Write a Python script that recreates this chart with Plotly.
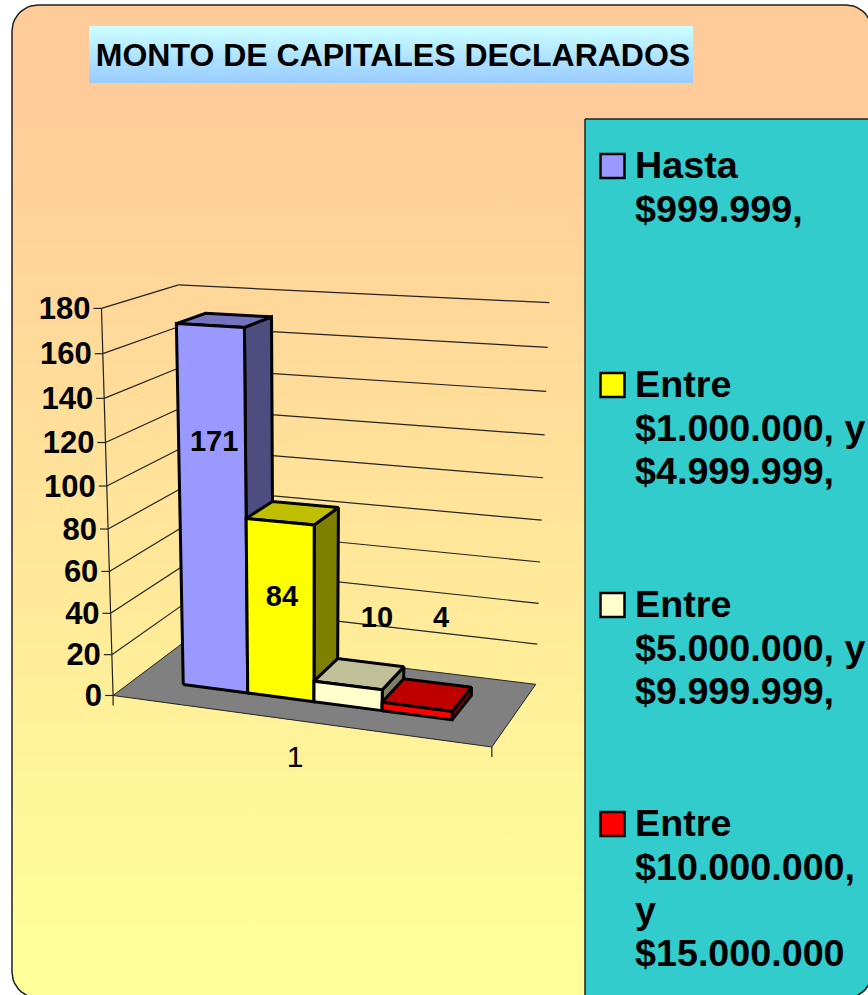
import numpy as np
import plotly.graph_objects as go

# data
tick_values = [0, 20, 40, 60, 80, 100, 120, 140, 160, 180]
category = '1'
chart_title = 'MONTO DE CAPITALES DECLARADOS'
series_names = [
    ['Hasta', '$999.999,'],
    ['Entre', '$1.000.000, y', '$4.999.999,'],
    ['Entre', '$5.000.000, y', '$9.999.999,'],
    ['Entre', '$10.000.000,', 'y', '$15.000.000'],
]
series_values = [171, 84, 10, 4]
series_colors = ['#9999FF', '#FFFF00', '#FFFFCC', '#FF0000']
side_colors = ['#4D4D80', '#808000', '#808066', '#800000']
top_colors = ['#7373BF', '#BFBF00', '#BFBF99', '#BF0000']

V_MAX = 180
FONT = 'Liberation Sans'
W, H = 868, 995

# (u along categories, d depth, value) -> point on the page, fitted as a real perspective camera
world = np.array([
    [0, 0, 0], [0, 0, V_MAX], [1, 0, 0], [0, 1, V_MAX],
    [1, 1, V_MAX], [1, 1, 0], [0, 1, 0], [0, 0, 100], [1, 1, 100],
], dtype=float)
page = np.array([
    [115, 695], [99, 309], [491, 749], [180, 285],
    [549, 303], [536, 682], [183, 643], [108, 484], [544, 478],
], dtype=float)
rows, rhs = [], []
for (u, d, v), (px, py) in zip(world, page):
    rows.append([u, d, v, 1, 0, 0, 0, 0, -px * u, -px * d, -px * v])
    rhs.append(px)
    rows.append([0, 0, 0, 0, u, d, v, 1, -py * u, -py * d, -py * v])
    rhs.append(py)
cam = np.linalg.lstsq(np.array(rows), np.array(rhs), rcond=None)[0]
cam = np.append(cam, 1).reshape(3, 4)


def project(u, d, v):
    p = cam @ np.array([u, d, v, 1.0])
    return p[0] / p[2], p[1] / p[2]


fig = go.Figure()


def poly(points, fill, line='black', width=3, gradient=None):
    xs = [p[0] for p in points] + [points[0][0]]
    ys = [p[1] for p in points] + [points[0][1]]
    args = dict(x=xs, y=ys, mode='lines', fill='toself', hoverinfo='skip',
                line=dict(color=line, width=width))
    if gradient:
        args['fillgradient'] = gradient
    else:
        args['fillcolor'] = fill
    fig.add_trace(go.Scatter(**args))


def segment(a, b, width=1.2, color='#222222'):
    fig.add_trace(go.Scatter(x=[a[0], b[0]], y=[a[1], b[1]], mode='lines', hoverinfo='skip',
                             line=dict(color=color, width=width)))


def label(x, y, text, size, bold=True, pos='middle center'):
    txt = '<b>%s</b>' % text if bold else text
    fig.add_trace(go.Scatter(x=[x], y=[y], mode='text', text=[txt], textposition=pos, hoverinfo='skip',
                             textfont=dict(family=FONT, size=size, color='black')))


def arc(cx, cy, r, start):
    return [(cx + r * np.cos(a), cy + r * np.sin(a)) for a in np.radians(np.linspace(start, start + 90, 12))]


def rounded(x0, y0, x1, y1, r):
    return (arc(x1 - r, y0 + r, r, -90) + arc(x1 - r, y1 - r, r, 0)
            + arc(x0 + r, y1 - r, r, 90) + arc(x0 + r, y0 + r, r, 180))


# page background
poly(rounded(12, 5, 872, 998, 26), None, line='#222222', width=1.5, gradient=dict(
    type='vertical', colorscale=[[0, '#FFFF99'], [0.05, '#FFFF99'], [0.9, '#FFCC99'], [1, '#FFCC99']]))

# title box
poly([(89, 26), (693, 26), (693, 83), (89, 83)], None, line='rgba(0,0,0,0)', width=0, gradient=dict(
    type='vertical', colorscale=[[0, '#99CCFF'], [1, '#CCFFFF']]))
label(393, 58, chart_title, 32)

# legend box, its lower right corner follows the frame
poly([(585, 119), (872, 119)] + arc(846, 972, 26, 0) + [(585, 998)], '#33CCCC', line='#222222', width=1.5)

legend_tops = [165, 384, 604, 823]
for top, lines, colour in zip(legend_tops, series_names, series_colors):
    fig.add_trace(go.Scatter(x=[612.5], y=[top + 1], mode='markers', hoverinfo='skip',
                             marker=dict(symbol='square', size=24, color=colour,
                                         line=dict(color='black', width=2.5))))
    for i, line in enumerate(lines):
        label(635, top + 4 + i * 43.3, line, 37.7, pos='middle right')

# floor
poly([project(0, 0, 0), project(1, 0, 0), project(1, 1, 0), project(0, 1, 0)], '#808080', line='#222222', width=1)

# gridlines on side and back wall
for v in tick_values:
    a, b, c = project(0, 0, v), project(0, 1, v), project(1, 1, v)
    if v > 0:
        segment(a, b)
        segment(b, c)
    segment((a[0] - 8, a[1]), a)
    label(a[0] - 11, a[1] + 3, str(v), 31, pos='middle left')
segment(project(0, 0, 0), project(0, 0, V_MAX))
a = project(0, 0, 0)
segment(a, (a[0], a[1] + 10))
a = project(1, 0, 0)
segment(a, (a[0], a[1] + 10))
label(295, 759, category, 30, bold=False)

# bars, gap width 150 %
bar_w = 1 / 5.5
d0, d1 = 0.3, 0.7
for i, val in enumerate(series_values):
    u0 = bar_w * (0.75 + i)
    u1 = u0 + bar_w
    poly([project(u1, d0, 0), project(u1, d1, 0), project(u1, d1, val), project(u1, d0, val)], side_colors[i])
    poly([project(u0, d0, val), project(u1, d0, val), project(u1, d1, val), project(u0, d1, val)], top_colors[i])
    poly([project(u0, d0, 0), project(u1, d0, 0), project(u1, d0, val), project(u0, d0, val)], series_colors[i])

# data labels sit where the original placed them, relative to the bar tops
label_offsets = [(4, 118), (2, 77), (29, -66), (24, -87)]
for i, val in enumerate(series_values):
    u0 = bar_w * (0.75 + i)
    x, y = project(u0 + bar_w / 2, d0, val)
    label(x + label_offsets[i][0], y + label_offsets[i][1], str(val), 29)

fig.update_layout(
    width=W, height=H,
    margin=dict(l=0, r=0, t=0, b=0),
    paper_bgcolor='white',
    plot_bgcolor='rgba(0,0,0,0)',
    showlegend=False,
    xaxis=dict(range=[0, W], visible=False, fixedrange=True),
    yaxis=dict(range=[H, 0], visible=False, fixedrange=True),
)

# drop the browser's default body margin so the figure fills the window
fig.write_html("out.html", config={'displayModeBar': False},
               post_script="document.body.style.margin = '0';")
